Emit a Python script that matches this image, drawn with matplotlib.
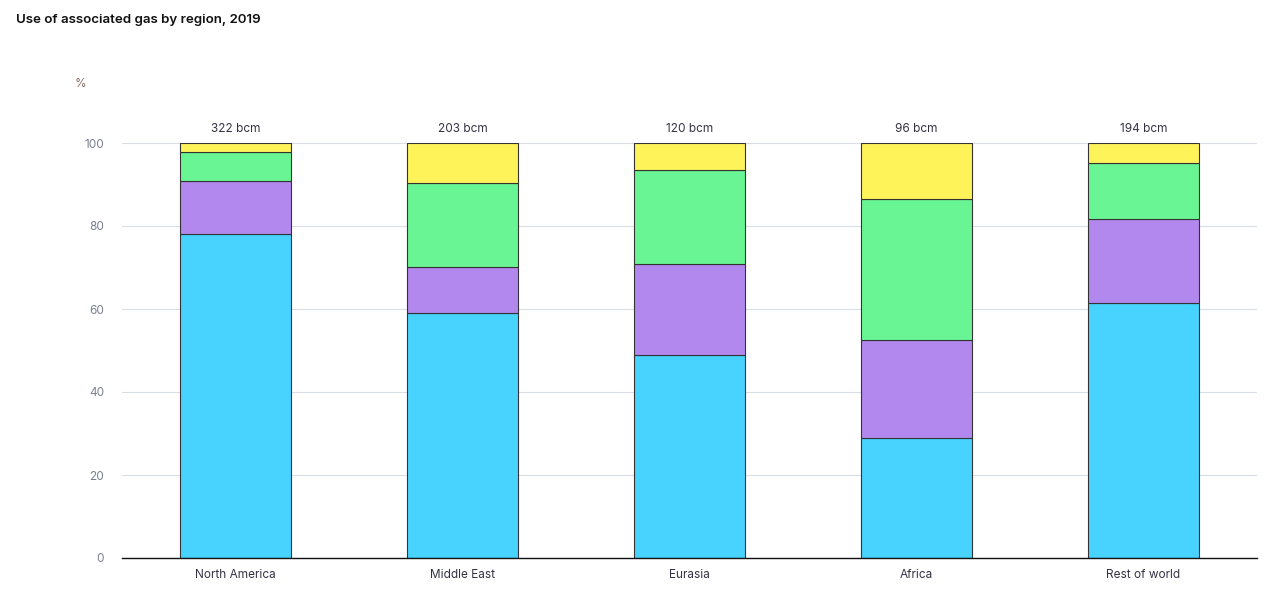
import matplotlib
matplotlib.use("Agg")
import matplotlib.pyplot as plt
import numpy as np

plt.rcParams['font.family'] = ['Inter', 'DejaVu Sans']

regions = ["North America", "Middle East", "Eurasia", "Africa", "Rest of world"]
totals = ["322 bcm", "203 bcm", "120 bcm", "96 bcm", "194 bcm"]
seg_blue = [78.0, 59.0, 48.9, 28.9, 61.4]
seg_purple = [12.8, 11.1, 21.9, 23.6, 20.3]
seg_green = [7.0, 20.3, 22.7, 34.0, 13.5]
seg_yellow = [2.2, 9.6, 6.5, 13.5, 4.8]
yticks = [0, 20, 40, 60, 80, 100]

colors = ["#48D3FF", "#B388EE", "#69F594", "#FFF35A"]

fig = plt.figure(figsize=(12.69, 5.97), dpi=100)
ax = fig.add_axes([122/1269, 1-558/597, (1257-122)/1269, (558-143)/597])

x = np.arange(len(regions))
bottom = np.zeros(len(regions))
for vals, c in zip([seg_blue, seg_purple, seg_green, seg_yellow], colors):
    ax.bar(x, vals, bottom=bottom, width=0.485, color=c, edgecolor="#333333", linewidth=0.8, zorder=3)
    bottom += np.array(vals)

for xi, t, top in zip(x, totals, bottom):
    ax.text(xi, top + 2.0, t, ha="center", va="bottom", fontsize=8.5, color="#333344", clip_on=False)

ax.set_xlim(-0.5, len(regions) - 0.5)
ax.set_ylim(0, 100)
ax.set_yticks(yticks)
ax.set_xticks(x)
ax.set_xticklabels(regions)
ax.tick_params(axis="x", length=0, pad=8, labelsize=8.5, labelcolor="#333344")
ax.tick_params(axis="y", length=0, pad=13, labelsize=8.5, labelcolor="#7a8090")
ax.yaxis.grid(True, color="#d8dde6", linewidth=0.8, zorder=0)
for s in ["top", "right", "left"]:
    ax.spines[s].set_visible(False)
ax.spines["bottom"].set_color("#111111")
ax.spines["bottom"].set_linewidth(1.0)
ax.spines["bottom"].set_zorder(4)

fig.text(75/1269, 1-84/597, "%", fontsize=8.5, color="#8a6a60", va="center", ha="left")
fig.text(16/1269, 1-20/597, "Use of associated gas by region, 2019", fontsize=9.6, fontweight="semibold", color="#111111", va="center", ha="left")

fig.savefig("out.png", dpi=100)
